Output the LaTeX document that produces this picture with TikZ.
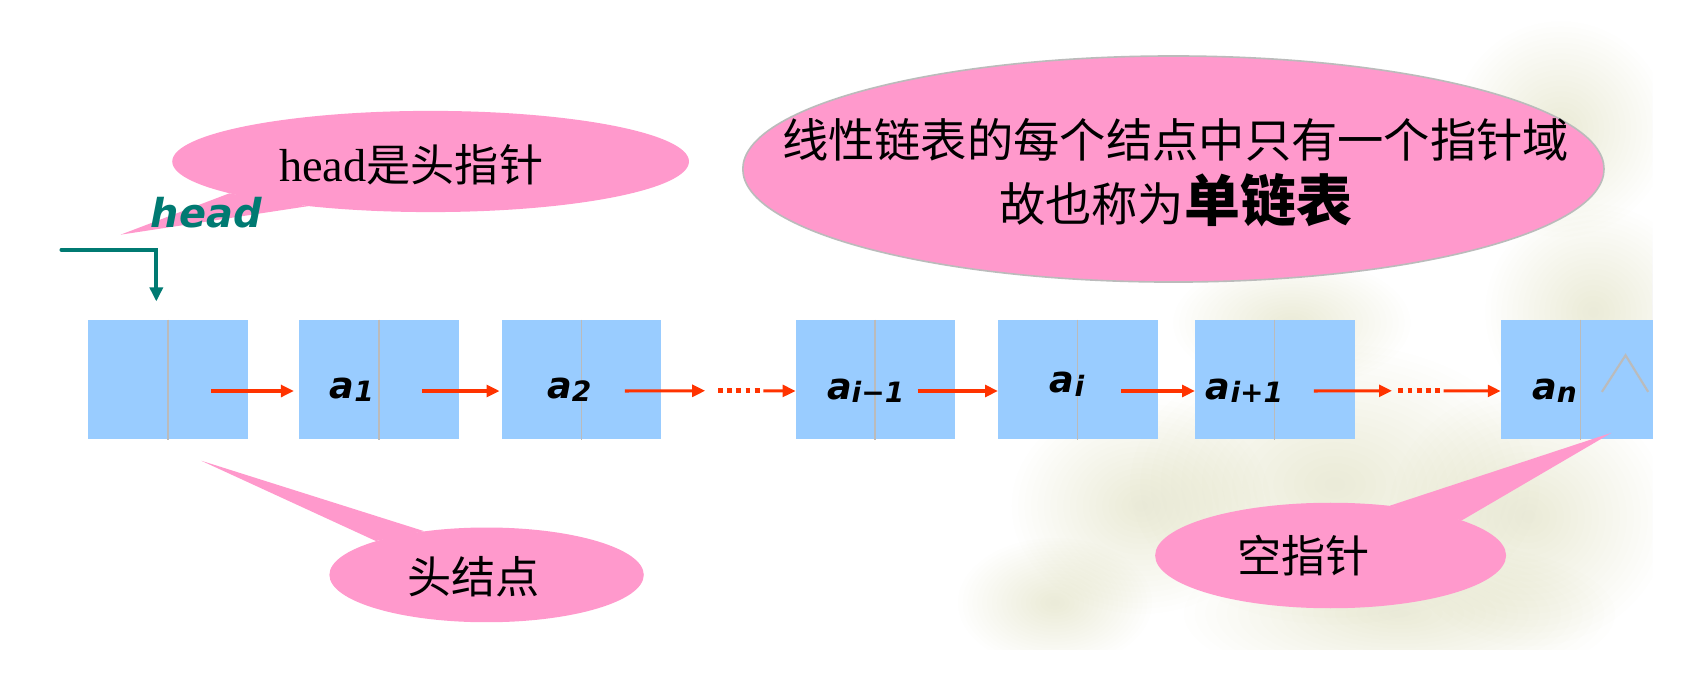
\documentclass[tikz,border=0pt]{standalone}
\usepackage{fontspec}
\setmainfont{Liberation Serif}
\newfontfamily\cjk{Noto Sans CJK SC}
\newfontfamily\lbl{DejaVu Sans}
\usetikzlibrary{arrows.meta,shapes.geometric,calc}
\definecolor{calloutpink}{HTML}{FF99CC}
\definecolor{cellblue}{HTML}{99CCFF}
\definecolor{headteal}{HTML}{007A72}
\definecolor{linkred}{HTML}{FF3300}
\definecolor{divgray}{HTML}{BBBBBB}
\definecolor{bgbeige}{HTML}{D6D8B2}
\tikzset{
 cell/.style={rectangle, fill=cellblue, minimum width=148pt, minimum height=111pt, inner sep=0pt, anchor=north west},
 bubble/.style={ellipse, fill=calloutpink, inner sep=0pt},
 link/.style={draw=linkred, line width=2.8pt, -{Triangle[length=12pt,width=11pt]}},
 gapdots/.style={draw=linkred, line width=4.5pt, dash pattern=on 4.5pt off 4pt},
 divider/.style={draw=divgray, line width=1.5pt},
 elem/.style={font=\lbl\bfseries\itshape\fontsize{34}{34}\selectfont, anchor=base west, inner sep=0pt},
 cjktext/.style={font=\cjk\fontsize{41}{41}\selectfont, inner sep=0pt},
 nullmark/.style={draw=divgray, line width=2pt},
}
\newcommand\subs[1]{\raisebox{-3pt}{\fontsize{26}{26}\selectfont #1}}
\begin{document}
\begin{tikzpicture}[x=1pt,y=-1pt]
\useasboundingbox (0,0) rectangle (1568,635);
\fill[white] (0,0) rectangle (1568,635);
% faint background picture
\begin{scope}
\clip (870,20) rectangle (1535,603);
\foreach \cx/\cy/\rx/\ry in {1240/450/190/130, 1420/480/130/120, 1480/290/100/100, 1060/470/120/100, 1300/570/200/70, 1450/120/100/100, 1200/300/110/60, 980/560/90/60}{
  \foreach \k in {1,...,20}{
    \fill[bgbeige, fill opacity=0.025] (\cx,\cy) ellipse [x radius={\rx*\k/20}, y radius={\ry*\k/20}];
  }
}
\end{scope}
% cells
\node[cell] (n0) at (82,297) {};
\node[cell] (n1) at (278,297) {};
\node[cell] (n2) at (466,297) {};
\node[cell] (n3) at (739,297) {};
\node[cell] (n4) at (927,297) {};
\node[cell] (n5) at (1110,297) {};
\node[cell, minimum width=141pt] (n6) at (1394,297) {};
\foreach \n in {n0,n1,n2,n3,n4,n5,n6}{
  \draw[divider] ([xshift=74pt]\n.north west) -- ([xshift=74pt]\n.south west);
}
% element labels
\node[elem] (l1) at (306,370) {a\subs{1}};
\node[elem] (l2) at (508,370) {a\subs{2}};
\node[elem] (l3) at (768,371) {a\subs{i−1}};
\node[elem] (l4) at (975,365) {a\subs{i}};
\node[elem] (l5) at (1120,371) {a\subs{i+1}};
\node[elem] (l6) at (1423,371) {a\subs{n}};
% null pointer mark
\draw[nullmark] (1488,364) -- (1510,330) -- (1531,364);
% links
\coordinate (d1a) at (655,363);
\coordinate (d1b) at (667,363);
\coordinate (d1c) at (709,363);
\coordinate (d2a) at (1293,363);
\coordinate (d2b) at (1299,363);
\coordinate (d2c) at (1341,363);
\draw[link] ([xshift=-34pt,yshift=-10.5pt]n0.east) -- ([xshift=-5pt,yshift=-10.5pt]n1.west);
\draw[link] ([xshift=-34pt,yshift=-10.5pt]n1.east) -- ([xshift=-2pt,yshift=-10.5pt]n2.west);
\draw[link] ([xshift=-34pt,yshift=-10.5pt]n2.east) -- (d1a);
\draw[gapdots] (d1b) -- (d1c);
\draw[link] (d1c) -- ([yshift=-10.5pt]n3.west);
\draw[link] ([xshift=-35pt,yshift=-10.5pt]n3.east) -- ([yshift=-10.5pt]n4.west);
\draw[link] ([xshift=-34pt,yshift=-10.5pt]n4.east) -- ([yshift=-10.5pt]n5.west);
\draw[link] ([xshift=-38pt,yshift=-10.5pt]n5.east) -- (d2a);
\draw[gapdots] (d2b) -- (d2c);
\draw[link] (d2c) -- ([yshift=-10.5pt]n6.west);
% callouts
\node[bubble, minimum width=480pt, minimum height=94pt] (hb) at (400,150) {};
\coordinate (hbtip) at (112,218);
\fill[calloutpink] (hbtip) -- (hb.189) -- (hb.200) -- cycle;
\node[cjktext] (hbt) at (382,153) {{\rmfamily\fontsize{43}{43}\selectfont head}是头指针};

\node[bubble, draw=divgray, line width=1.5pt, minimum width=800pt, minimum height=210pt] (big) at (1090,157) {};
\node[inner sep=0pt, font=\cjk\fontsize{43}{43}\selectfont] (bigt1) at (1092,130) {线性链表的每个结点中只有一个指针域};
\node[inner sep=0pt, font=\cjk\fontsize{43}{43}\selectfont] (bigt2) at (1092,186) {故也称为{\bfseries\fontsize{52}{52}\selectfont 单链表}};

\node[bubble, minimum width=292pt, minimum height=88pt] (hn) at (452,534) {};
\coordinate (hntip) at (187,428);
\fill[calloutpink] (hntip) -- (hn.163) -- (hn.145) -- cycle;
\node[cjktext] (hnt) at (440,536) {头结点};

\node[bubble, minimum width=326pt, minimum height=98pt] (np) at (1236,516) {};
\coordinate (nptip) at (1497,402);
\fill[calloutpink] (nptip) -- (np.40) -- (np.15) -- cycle;
\node[cjktext] (npt) at (1211,516) {空指针};
% head pointer
\node[anchor=base west, inner sep=0pt, text=headteal, font=\lbl\bfseries\itshape\fontsize{37}{37}\selectfont] (hlabel) at (140,211) {head};
\coordinate (hp) at (57,232);
\draw[headteal, line width=3.5pt, line cap=round, -{Triangle[length=13pt,width=12pt]}] (hp) -| ([xshift=-11pt,yshift=17pt]n0.north);
\end{tikzpicture}
\end{document}
